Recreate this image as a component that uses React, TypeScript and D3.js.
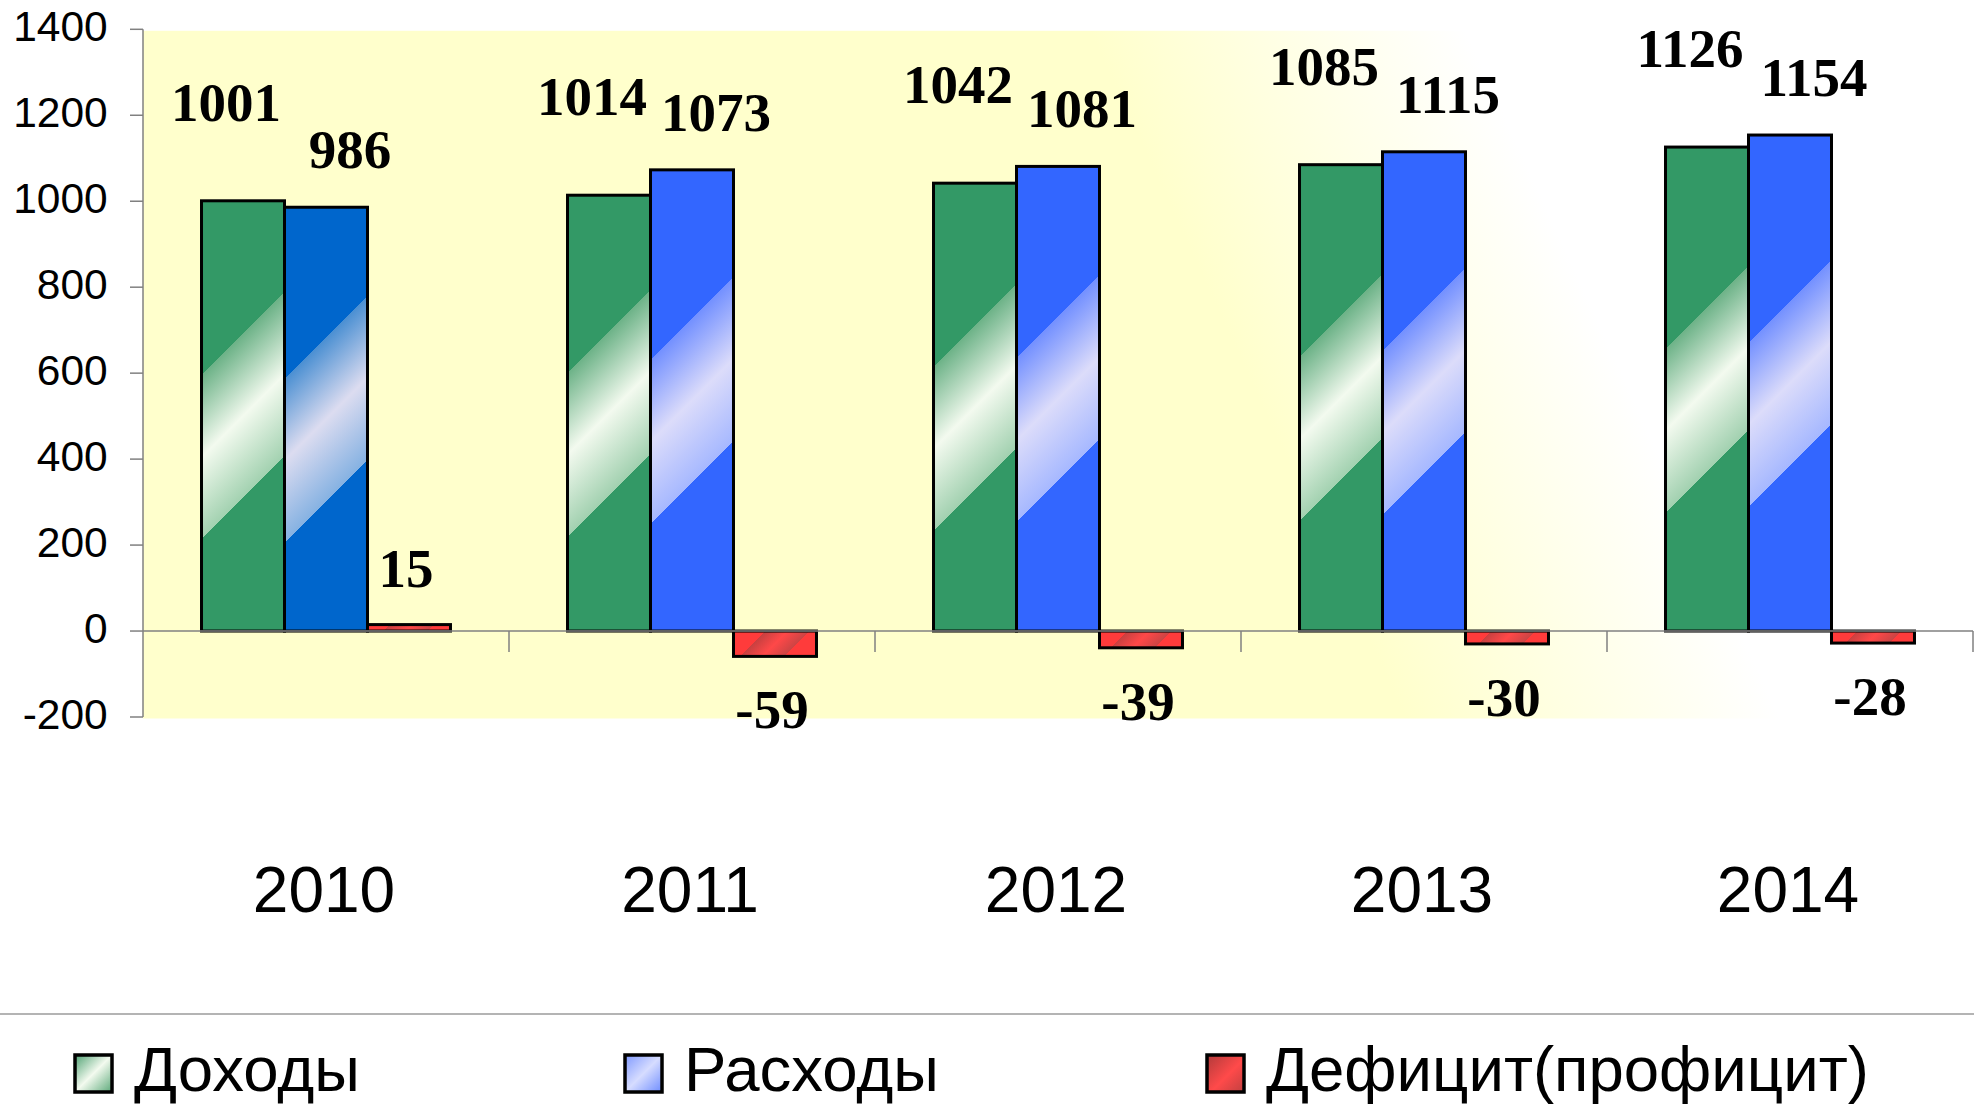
import React from 'react';
import * as d3 from 'd3';

// ---- data ----
const years = ['2010', '2011', '2012', '2013', '2014'];
const income = [1001, 1014, 1042, 1085, 1126];
const expenses = [986, 1073, 1081, 1115, 1154];
const deficit = [15, -59, -39, -30, -28];
const yTicks = [-200, 0, 200, 400, 600, 800, 1000, 1200, 1400];
const seriesKeys = ['inc', 'exp', 'def'];
const seriesNames = ['Доходы', 'Расходы', 'Дефицит(профицит)'];

// ---- layout / style ----
const W = 1974;
const H = 1105;
const PLOT = { left: 143, right: 1973, top: 29.3, bottom: 717 };
const SANS = '"Liberation Sans", Arial, sans-serif';
const SERIF = '"Liberation Serif", "Times New Roman", serif';

type Grad = { base: string; e1: string; mid: string; e2: string };
const greenGrad: Grad = { base: '#339966', e1: '#6cb287', mid: '#f3faef', e2: '#a2d1b0' };
const blueDarkGrad: Grad = { base: '#0066CC', e1: '#4a8fd2', mid: '#dcdcf0', e2: '#86b2e2' };
const blueGrad: Grad = { base: '#3366FF', e1: '#7390ff', mid: '#dcdcfa', e2: '#a6b8ff' };
const redGrad: Grad = { base: '#FF3b3b', e1: '#c84040', mid: '#ff4848', e2: '#cc4444' };

function gradFor(s: string, i: number): Grad {
  if (s === 'inc') return greenGrad;
  if (s === 'exp') return i === 0 ? blueDarkGrad : blueGrad;
  return redGrad;
}

const labelOffset: Record<string, { dx: number; dyPos: number; dyNeg: number }> = {
  inc: { dx: -17, dyPos: -80, dyNeg: 72 },
  exp: { dx: 24, dyPos: -39, dyNeg: 72 },
  def: { dx: -3, dyPos: -38, dyNeg: 72 },
};

export default function App() {
  const y = d3.scaleLinear().domain([-200, 1400]).range([PLOT.bottom, PLOT.top]);
  const x0 = d3.scaleBand<string>().domain(years).range([PLOT.left, PLOT.right]).paddingInner(0).paddingOuter(0);
  const x1 = d3
    .scaleBand<string>()
    .domain(seriesKeys)
    .range([0, x0.bandwidth()])
    .paddingInner(0)
    .paddingOuter(0.705);

  const valuesFor: Record<string, number[]> = { inc: income, exp: expenses, def: deficit };

  const bars: any[] = [];
  years.forEach((yr, i) => {
    seriesKeys.forEach((s) => {
      const v = valuesFor[s][i];
      const bx = (x0(yr) as number) + (x1(s) as number);
      const bw = x1.bandwidth();
      const top = v >= 0 ? y(v) : y(0);
      const bot = v >= 0 ? y(0) : y(v);
      bars.push({ id: `g-${s}-${i}`, s, i, v, bx, bw, top, bot, grad: gradFor(s, i) });
    });
  });

  const legendX = [75, 625, 1207];

  return (
    <svg
      width={W}
      height={H}
      viewBox={`0 0 ${W} ${H}`}
      style={{ position: 'absolute', left: 0, top: 0, display: 'block', background: '#fff' }}
    >
      <defs>
        <linearGradient id="bgGrad" gradientUnits="userSpaceOnUse" x1={1290} y1={467} x2={1600} y2={325}>
          <stop offset="0" stopColor="#FFFFCC" />
          <stop offset="1" stopColor="#FFFFFF" />
        </linearGradient>
        {bars.map((b) => {
          const cx = b.bx + b.bw / 2;
          const cy = (b.top + b.bot) / 2;
          const a = b.s === 'def' ? 22 : 82;
          const g: Grad = b.grad;
          return (
            <linearGradient
              key={b.id}
              id={b.id}
              gradientUnits="userSpaceOnUse"
              x1={cx - a}
              y1={cy - a}
              x2={cx + a}
              y2={cy + a}
            >
              <stop offset="0" stopColor={g.base} />
              <stop offset="0.25" stopColor={g.base} />
              <stop offset="0.25" stopColor={g.e1} />
              <stop offset="0.5" stopColor={g.mid} />
              <stop offset="0.75" stopColor={g.e2} />
              <stop offset="0.75" stopColor={g.base} />
              <stop offset="1" stopColor={g.base} />
            </linearGradient>
          );
        })}
        <linearGradient id="lg-inc" x1="0" y1="0" x2="1" y2="1">
          <stop offset="0" stopColor="#4ea172" />
          <stop offset="0.5" stopColor="#f3faef" />
          <stop offset="1" stopColor="#5aa878" />
        </linearGradient>
        <linearGradient id="lg-exp" x1="0" y1="0" x2="1" y2="1">
          <stop offset="0" stopColor="#7f99ff" />
          <stop offset="0.5" stopColor="#d6dcff" />
          <stop offset="1" stopColor="#6d8cff" />
        </linearGradient>
        <linearGradient id="lg-def" x1="0" y1="0" x2="1" y2="1">
          <stop offset="0" stopColor="#b03a3a" />
          <stop offset="0.55" stopColor="#ff4a4a" />
          <stop offset="1" stopColor="#c04040" />
        </linearGradient>
      </defs>

      {/* plot background */}
      <rect
        x={PLOT.left}
        y={PLOT.top + 1.5}
        width={PLOT.right - PLOT.left}
        height={PLOT.bottom - PLOT.top}
        fill="url(#bgGrad)"
      />

      {/* y axis */}
      <line x1={PLOT.left} x2={PLOT.left} y1={PLOT.top} y2={PLOT.bottom} stroke="#808080" strokeWidth={1.5} />
      {yTicks.map((t) => (
        <g key={t}>
          <line x1={PLOT.left - 13} x2={PLOT.left} y1={y(t)} y2={y(t)} stroke="#808080" strokeWidth={1.5} />
          <text
            x={107.7}
            y={y(t) + 11.6}
            textAnchor="end"
            fontFamily={SANS}
            fontSize={42.5}
            fill="#000"
          >
            {t}
          </text>
        </g>
      ))}

      {/* bars */}
      {bars.map((b) => (
        <rect
          key={b.id}
          x={b.bx}
          y={b.top}
          width={b.bw}
          height={Math.max(0, b.bot - b.top)}
          fill={`url(#${b.id})`}
          stroke="#000"
          strokeWidth={3}
        />
      ))}

      {/* x axis (zero line) */}
      <line x1={PLOT.left} x2={PLOT.right} y1={y(0)} y2={y(0)} stroke="#808080" strokeWidth={1.5} />
      {years.map((yr) => (
        <line
          key={yr}
          x1={(x0(yr) as number) + x0.bandwidth()}
          x2={(x0(yr) as number) + x0.bandwidth()}
          y1={y(0)}
          y2={y(0) + 21}
          stroke="#808080"
          strokeWidth={1.5}
        />
      ))}

      {/* data labels */}
      {bars.map((b) => {
        const o = labelOffset[b.s];
        const cx = b.bx + b.bw / 2 + o.dx;
        const ty = b.v >= 0 ? b.top + o.dyPos : b.bot + o.dyNeg;
        return (
          <text
            key={'l' + b.id}
            x={cx}
            y={ty}
            textAnchor="middle"
            fontFamily={SERIF}
            fontWeight="bold"
            fontSize={55}
            fill="#000"
          >
            {b.v}
          </text>
        );
      })}

      {/* category labels */}
      {years.map((yr) => (
        <text
          key={'c' + yr}
          x={(x0(yr) as number) + x0.bandwidth() / 2 - 2}
          y={911.7}
          textAnchor="middle"
          fontFamily={SANS}
          fontSize={64}
          fill="#000"
        >
          {yr}
        </text>
      ))}

      {/* legend separator */}
      <line x1={0} x2={W} y1={1014} y2={1014} stroke="#b4b4b4" strokeWidth={2} />

      {/* legend */}
      {seriesKeys.map((s, i) => (
        <g key={'lg' + s}>
          <rect
            x={legendX[i]}
            y={1055}
            width={37}
            height={37}
            fill={`url(#lg-${s})`}
            stroke="#000"
            strokeWidth={3.5}
          />
          <text x={legendX[i] + 59} y={1091} fontFamily={SANS} fontSize={63.5} fill="#000">
            {seriesNames[i]}
          </text>
        </g>
      ))}
    </svg>
  );
}
